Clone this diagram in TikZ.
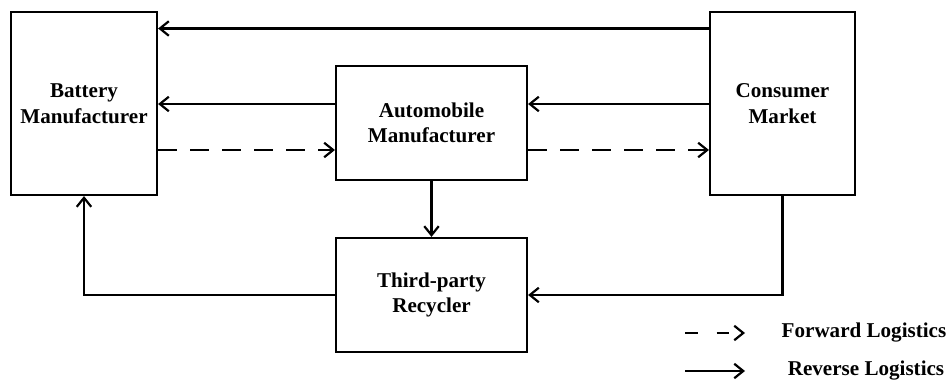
\documentclass[tikz,border=0pt]{standalone}
\usepackage{fontspec}
\setmainfont{Liberation Serif}
\usetikzlibrary{arrows.meta}

\begin{document}
\begin{tikzpicture}[x=0.02cm, y=-0.02cm, line width=1.25pt,
    every node/.style={font=\fontsize{12}{14.5}\selectfont\bfseries, align=center},
    box/.style={draw, minimum width=#1},
    box/.default={2.92cm},
    rev/.style={-{Straight Barb[length=1.8mm, width=2.9mm]}},
    fwd/.style={rev, dash pattern=on 0.38cm off 0.26cm}]
    \useasboundingbox (0,0) rectangle (949,381);

    % The four parties
    \node[box, minimum height=3.66cm] (bat) at (84,103.5) {Battery\\Manufacturer};
    \node[box=3.82cm, minimum height=2.28cm] (auto) at (431.5,123) {Automobile\\Manufacturer};
    \node[box=2.9cm, minimum height=3.66cm] (cons) at (782.5,103.5) {Consumer\\Market};
    \node[box=3.82cm, minimum height=2.28cm] (rec) at (431.5,295) {Third-party\\Recycler};

    % Reverse flows (solid)
    \draw[rev] (cons.west |- 0,28.5) -- (bat.east |- 0,28.5);
    \draw[rev] (auto.west |- 0,104) -- (bat.east |- 0,104);
    \draw[rev] (cons.west |- 0,104) -- (auto.east |- 0,104);
    \draw[rev] (auto) -- (rec);
    \draw[rev] (rec.west) -| (bat.south);
    \draw[rev] (cons.south) |- (rec.east);

    % Forward flows (dashed)
    \draw[fwd] (bat.east |- 0,150) -- (auto.west |- 0,150);
    \draw[fwd] (auto.east |- 0,150) -- (cons.west |- 0,150);

    % Legend
    \coordinate (f1) at (685,333);
    \coordinate (f2) at (745,333);
    \coordinate (r1) at (685,371);
    \coordinate (r2) at (745,371);
    \draw[rev, dash pattern=on 0.25cm off 0.38cm] (f1) -- (f2);
    \draw[rev] (r1) -- (r2);
    \node (fl) at (864,333) {Forward Logistics};
    \node (rl) at (866,371) {Reverse Logistics};
\end{tikzpicture}
\end{document}
